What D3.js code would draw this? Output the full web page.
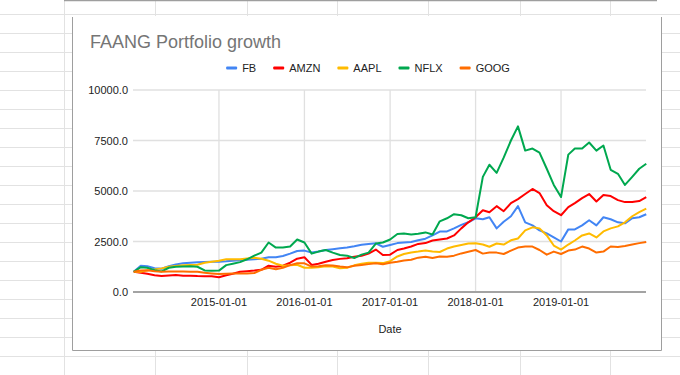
<!DOCTYPE html>
<html>
<head>
<meta charset="utf-8">
<script src="https://cdn.jsdelivr.net/npm/d3@7"></script>
<style>
  body { margin: 0; background: #fff; }
  svg { display: block; font-family: Arial, "Liberation Sans", sans-serif; }
</style>
</head>
<body>
<svg id="chart" width="680" height="375"></svg>
<script>
// month samples (first trading day of each month + last day)
var dates = [
  "2014-01-02","2014-02-01","2014-03-01","2014-04-01","2014-05-01","2014-06-01","2014-07-01","2014-08-01","2014-09-01","2014-10-01","2014-11-01","2014-12-01",
  "2015-01-01","2015-02-01","2015-03-01","2015-04-01","2015-05-01","2015-06-01","2015-07-01","2015-08-01","2015-09-01","2015-10-01","2015-11-01","2015-12-01",
  "2016-01-01","2016-02-01","2016-03-01","2016-04-01","2016-05-01","2016-06-01","2016-07-01","2016-08-01","2016-09-01","2016-10-01","2016-11-01","2016-12-01",
  "2017-01-01","2017-02-01","2017-03-01","2017-04-01","2017-05-01","2017-06-01","2017-07-01","2017-08-01","2017-09-01","2017-10-01","2017-11-01","2017-12-01",
  "2018-01-01","2018-02-01","2018-03-01","2018-04-01","2018-05-01","2018-06-01","2018-07-01","2018-08-01","2018-09-01","2018-10-01","2018-11-01","2018-12-01",
  "2019-01-01","2019-02-01","2019-03-01","2019-04-01","2019-05-01","2019-06-01","2019-07-01","2019-08-01","2019-09-01","2019-10-01","2019-11-01","2019-12-01",
  "2019-12-31"
];

var fb = [1000,1300,1280,1180,1150,1280,1360,1420,1450,1470,1490,1500,
  1500,1520,1550,1570,1600,1620,1650,1720,1720,1780,1900,2030,
  2050,1950,2000,2080,2120,2160,2200,2260,2340,2380,2410,2240,
  2330,2420,2450,2480,2560,2640,2800,2990,3000,3150,3320,3450,
  3650,3600,3700,3150,3480,3750,4250,3450,3300,3050,2900,2700,
  2500,3100,3100,3300,3550,3300,3700,3600,3450,3400,3650,3700,
  3850];
var amzn = [1000,950,900,830,790,820,840,800,810,790,780,780,
  730,830,900,1000,1030,1060,1100,1300,1250,1300,1450,1650,
  1720,1340,1400,1500,1580,1640,1670,1750,1790,1900,2100,1830,
  1850,2080,2150,2250,2380,2420,2550,2600,2650,2800,3150,3450,
  3700,4050,3950,4250,4000,4400,4600,4850,5100,4900,4300,4000,
  3800,4200,4400,4650,4850,4480,4800,4750,4550,4450,4450,4500,
  4700];
var aapl = [1000,1000,1060,1120,1170,1250,1290,1320,1340,1350,1450,1500,
  1550,1620,1620,1620,1660,1700,1650,1550,1400,1300,1330,1350,
  1200,1200,1230,1280,1260,1170,1200,1320,1400,1450,1450,1430,
  1530,1760,1880,1960,2000,2050,2000,1980,2150,2250,2330,2400,
  2410,2350,2240,2400,2350,2560,2650,3050,3200,3150,2800,2300,
  2100,2350,2550,2800,2900,2700,3000,3150,3250,3450,3750,3950,
  4130];
var nflx = [1000,1230,1200,1080,1020,1200,1250,1260,1270,1250,1070,1050,
  1060,1330,1400,1480,1620,1800,1950,2450,2200,2200,2250,2600,
  2450,1900,2000,2080,1950,1830,1800,1680,1850,1950,2400,2450,
  2600,2870,2900,2850,2880,2950,2850,3500,3650,3850,3800,3650,
  3700,5700,6300,5900,6650,7500,8200,7000,7100,6900,6100,5300,
  4700,6800,7100,7100,7400,7000,7250,6050,5850,5300,5700,6100,
  6350];
var goog = [1000,1060,1080,1030,1000,1010,1020,1010,1000,1000,950,920,
  890,900,910,910,920,940,1100,1200,1130,1200,1330,1420,
  1420,1260,1280,1320,1310,1260,1220,1300,1340,1380,1420,1370,
  1450,1500,1560,1600,1700,1750,1680,1760,1750,1800,1910,1990,
  2080,1900,1950,1950,1880,2050,2200,2250,2250,2080,1850,2000,
  1880,2050,2100,2250,2150,1950,2000,2250,2230,2280,2350,2420,
  2480];

var seriesNames = ["FB", "AMZN", "AAPL", "NFLX", "GOOG"];
var seriesValues = [fb, amzn, aapl, nflx, goog];
var seriesColors = ["#4285f4", "#ff0000", "#ffbb00", "#00a84f", "#ff6d00"];
var yTicks = [0, 2500, 5000, 7500, 10000];
var xTicks = ["2015-01-01", "2016-01-01", "2017-01-01", "2018-01-01", "2019-01-01"];

var svg = d3.select("#chart");
var parse = d3.timeParse("%Y-%m-%d");

// spreadsheet cells behind the chart
var colX = [64, 155, 247, 337, 428, 520, 610];
var bg = svg.append("g");
d3.range(14, 375, 19).forEach(function(y) {
  bg.append("line").attr("x1", 0).attr("x2", 680).attr("y1", y + 0.5).attr("y2", y + 0.5)
    .attr("stroke", "#e2e2e2");
});
colX.forEach(function(x) {
  bg.append("line").attr("x1", x + 0.5).attr("x2", x + 0.5).attr("y1", 0).attr("y2", 375)
    .attr("stroke", "#e2e2e2");
});
bg.append("line").attr("x1", 64).attr("x2", 657).attr("y1", 0.5).attr("y2", 0.5)
  .attr("stroke", "#9e9e9e").attr("stroke-width", 1.5);

// chart box
svg.append("rect").attr("x", 72).attr("y", 16).attr("width", 590).attr("height", 335)
  .attr("fill", "#fff");
svg.append("path").attr("d", "M72.5,17V350.5H661.5V17")
  .attr("fill", "none").attr("stroke", "#9e9e9e");

var x = d3.scaleTime()
  .domain([parse("2014-01-01"), parse("2020-01-01")])
  .range([133.5, 646.5]);
var y = d3.scaleLinear().domain([0, 10000]).range([292, 90]);

// grid
var grid = svg.append("g");
grid.selectAll(".hg").data(yTicks.slice(1)).enter().append("line")
  .attr("x1", 133).attr("x2", 646)
  .attr("y1", function(d) { return y(d); }).attr("y2", function(d) { return y(d); })
  .attr("stroke", "#e0e0e0").attr("stroke-width", 1.3);
grid.selectAll(".vg").data(xTicks).enter().append("line")
  .attr("x1", function(d) { return x(parse(d)); }).attr("x2", function(d) { return x(parse(d)); })
  .attr("y1", 90).attr("y2", 292)
  .attr("stroke", "#e0e0e0").attr("stroke-width", 1.3);

// y labels
svg.append("g").selectAll("text").data(yTicks).enter().append("text")
  .attr("x", 128).attr("y", function(d) { return y(d) + 4; })
  .attr("text-anchor", "end").attr("font-size", 11).attr("fill", "#222")
  .text(d3.format(".1f"));

// x labels
svg.append("g").selectAll("text").data(xTicks).enter().append("text")
  .attr("x", function(d) { return x(parse(d)); }).attr("y", 306)
  .attr("text-anchor", "middle").attr("font-size", 11).attr("fill", "#222")
  .text(function(d) { return d; });

// lines
var line = d3.line()
  .x(function(d, i) { return x(parse(dates[i])); })
  .y(function(d) { return y(d); });

svg.append("g").selectAll("path").data(seriesValues).enter().append("path")
  .attr("d", line)
  .attr("fill", "none")
  .attr("stroke", function(d, i) { return seriesColors[i]; })
  .attr("stroke-width", 2)
  .attr("stroke-linejoin", "round");

// baseline
svg.append("line").attr("x1", 133).attr("x2", 646).attr("y1", 292).attr("y2", 292)
  .attr("stroke", "#a3a3a3").attr("stroke-width", 2);

// title, axis title
svg.append("text").attr("x", 90).attr("y", 48)
  .attr("font-size", 18).attr("fill", "#757575")
  .text("FAANG Portfolio growth");
svg.append("text").attr("x", 390).attr("y", 333)
  .attr("text-anchor", "middle").attr("font-size", 11).attr("fill", "#222")
  .text("Date");

// legend, centred over the chart box
var legend = svg.append("g");
var cursor = 0;
seriesNames.forEach(function(name, i) {
  var item = legend.append("g").attr("transform", "translate(" + cursor + ",0)");
  item.append("rect").attr("x", 0).attr("y", -1.5).attr("width", 11).attr("height", 3)
    .attr("rx", 1).attr("fill", seriesColors[i]);
  var t = item.append("text").attr("x", 16).attr("y", 4)
    .attr("font-size", 11).attr("fill", "#222").text(name);
  cursor += 16 + t.node().getComputedTextLength() + 17;
});
var legendW = cursor - 17;
legend.attr("transform", "translate(" + (368 - legendW / 2) + ",68)");
</script>
</body>
</html>
